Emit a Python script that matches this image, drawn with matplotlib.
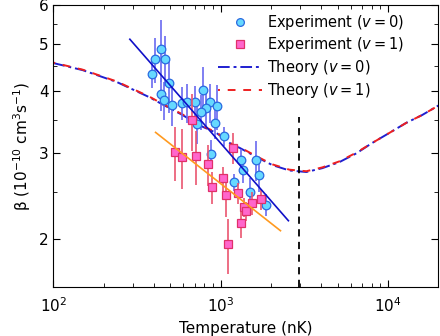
import numpy as np
import matplotlib.pyplot as plt
from matplotlib.ticker import LogLocator, LogFormatterMathtext, FixedLocator, FixedFormatter, NullFormatter

plt.rcParams['font.family'] = ['DejaVu Sans']

# experiment v=0 (temperature in nK, beta in 1e-10 cm^3 s^-1)
T0 = [391, 407, 442, 467, 494, 442, 461, 514, 590, 632, 706, 788, 868, 822, 767,
      955, 726, 930, 880, 1052, 1330, 1634, 1367, 1703, 1208, 1505, 1876]
b0 = [4.34, 4.65, 4.88, 4.65, 4.16, 3.95, 3.84, 3.75, 3.79, 3.80, 3.80, 4.03, 3.80,
      3.70, 3.63, 3.73, 3.43, 3.45, 2.98, 3.24, 2.90, 2.90, 2.76, 2.70, 2.61, 2.50, 2.35]
e0 = [0.27, 0.48, 0.70, 0.55, 0.55, 0.30, 0.35, 0.35, 0.30, 0.35, 0.30, 0.45, 0.35,
      0.30, 0.30, 0.40, 0.30, 0.25, 0.20, 0.15, 0.15, 0.27, 0.16, 0.20, 0.10, 0.16, 0.12]

# experiment v=1
T1 = [532, 585, 672, 710, 836, 884, 1028, 1071, 1179, 1101, 1280, 1334, 1390, 1410, 1552, 1756]
b1 = [3.01, 2.94, 3.49, 2.95, 2.84, 2.55, 2.66, 2.46, 3.07, 1.95, 2.48, 2.16, 2.32, 2.28, 2.37, 2.41]
e1 = [0.38, 0.41, 0.46, 0.37, 0.27, 0.19, 0.15, 0.24, 0.22, 0.25, 0.12, 0.15, 0.10, 0.10, 0.13, 0.12]

# theory curves
Tth = [100, 150, 240, 377, 433, 593, 750, 947, 1179, 1298, 1640, 2042, 2579, 3257,
       4057, 5125, 6472, 8056, 10178, 12853, 16021, 20230]
bth0 = [4.57, 4.42, 4.18, 3.89, 3.79, 3.58, 3.41, 3.29, 3.11, 3.07, 2.94, 2.83, 2.76,
        2.74, 2.79, 2.87, 2.99, 3.14, 3.29, 3.45, 3.58, 3.75]
bth1 = [4.58, 4.43, 4.19, 3.90, 3.80, 3.59, 3.42, 3.30, 3.12, 3.08, 2.95, 2.84, 2.77,
        2.75, 2.80, 2.88, 3.00, 3.14, 3.29, 3.45, 3.58, 3.75]

# power-law fits
fit0_T = [287, 2544]
fit0_b = [5.11, 2.18]
fit1_T = [409, 2281]
fit1_b = [3.30, 2.08]

T_mark = 2930

fig = plt.figure(figsize=(4.4, 3.36), dpi=100)
ax = fig.add_axes([0.121, 0.147, 0.875, 0.838])

l_th0, = ax.plot(Tth, bth0, color='#1f1fd0', ls=(0, (6, 2, 1.5, 2)), lw=1.4,
                 label='Theory ($v = 0$)')
l_th1, = ax.plot(Tth, bth1, color='#ee2020', ls=(3, (4, 4)), lw=1.4,
                 label='Theory ($v = 1$)')

ax.errorbar(T0, b0, yerr=e0, fmt='none', ecolor='#6a6af0', elinewidth=1.2, capsize=0)
h0, = ax.plot(T0, b0, 'o', ms=6.2, mfc='#66d8ff', mec='#2a6ae0', mew=0.9, ls='none',
              label='Experiment ($v = 0$)')
ax.errorbar(T1, b1, yerr=e1, fmt='none', ecolor='#ea5570', elinewidth=1.2, capsize=0)
h1, = ax.plot(T1, b1, 's', ms=5.8, mfc='#ff66cc', mec='#e0306a', mew=0.9, ls='none',
              label='Experiment ($v = 1$)')

ax.plot(fit0_T, fit0_b, color='#1010c8', lw=1.2)
ax.plot(fit1_T, fit1_b, color='#ff9a20', lw=1.2)

ax.plot([T_mark, T_mark], [1.6, 3.54], color='black', ls=(0, (4, 3)), lw=1.3)

ax.set_xscale('log')
ax.set_yscale('log')
ax.set_xlim(100, 20000)
ax.set_ylim(1.6, 6)

ax.xaxis.set_major_locator(LogLocator(base=10))
ax.xaxis.set_major_formatter(LogFormatterMathtext())
ax.xaxis.set_minor_locator(LogLocator(base=10, subs=np.arange(2, 10)))
ax.xaxis.set_minor_formatter(NullFormatter())
ax.yaxis.set_major_locator(FixedLocator([2, 3, 4, 5, 6]))
ax.yaxis.set_major_formatter(FixedFormatter(['2', '3', '4', '5', '6']))
ax.yaxis.set_minor_locator(FixedLocator([2.5, 3.5, 4.5, 5.5]))
ax.yaxis.set_minor_formatter(NullFormatter())

ax.tick_params(which='both', direction='in', top=True, right=True, labelsize=11)
ax.tick_params(which='major', length=5)
ax.tick_params(which='minor', length=3)
ax.tick_params(axis='x', pad=7)

ax.set_xlabel('Temperature (nK)', fontsize=11)
ax.set_ylabel(r'β (10$^{-10}$ cm$^{3}$s$^{-1}$)', fontsize=11)

ax.legend(handles=[h0, h1, l_th0, l_th1], loc='upper right', frameon=False,
          bbox_to_anchor=(0.926, 0.993), borderaxespad=0,
          fontsize=10.5, handlelength=3.0, handletextpad=0.35, labelspacing=0.25,
          markerscale=0.9)

fig.savefig('out.png', dpi=100)
